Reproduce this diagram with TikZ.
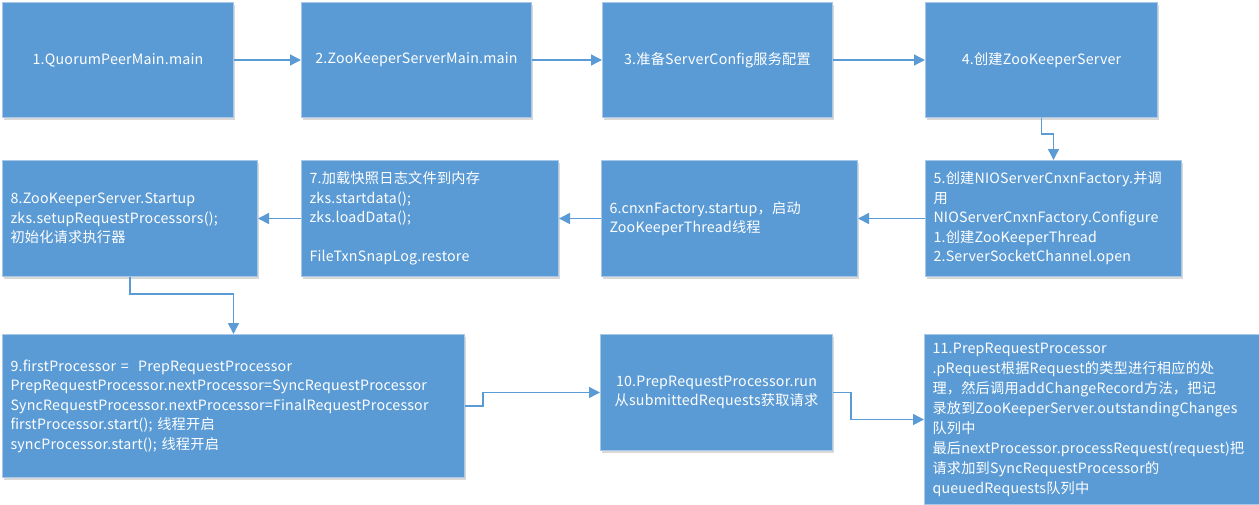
\documentclass[tikz,border=0pt]{standalone}
\usepackage{fontspec}
\setmainfont[LetterSpace=1.5]{Noto Sans CJK SC}
\usepackage{tikz}
\usetikzlibrary{positioning,arrows.meta,shadows}
\definecolor{boxblue}{HTML}{5B9BD5}
\definecolor{boxedge}{HTML}{A8C8E8}

\begin{document}
\begin{tikzpicture}[
    node distance=42pt and 67pt,
    stage/.style={draw=boxedge, line width=1pt, fill=boxblue, text=white, minimum height=116pt, inner sep=8pt, align=center, font=\fontsize{14.2pt}{19.5pt}\selectfont, drop shadow={shadow xshift=1pt, shadow yshift=-2pt, opacity=0.15, fill=black}},
    arr/.style={-{Triangle[length=11pt, width=11pt]}, line width=1.5pt, draw=boxblue},
    stub/.style={line width=1.5pt, draw=boxblue}
]
    \useasboundingbox (0,0) rectangle (1259pt,-504pt);

    % Row 1: startup
    \node[stage, minimum width=231pt, minimum height=115pt, anchor=north west] (qpm_main) at (2pt,-2pt) {1.QuorumPeerMain.main};
    \node[stage, minimum width=230pt, minimum height=115pt, right=67pt of qpm_main] (zksm_main) {2.ZooKeeperServerMain.main};
    \node[stage, minimum width=230pt, minimum height=115pt, right=70pt of zksm_main] (cfg) {3.准备ServerConfig服务配置};
    \node[stage, minimum width=232pt, minimum height=115pt, right=92pt of cfg] (zks_new) {4.创建ZooKeeperServer};

    % Row 2: factory and data (right to left)
    \node[stage, text width=240pt, align=left, below=42pt of zks_new.south west, anchor=north west] (cnxn_new) {5.创建NIOServerCnxnFactory.并调\\用\\NIOServerCnxnFactory.Configure\\1.创建ZooKeeperThread\\2.ServerSocketChannel.open};
    \node[stage, text width=240pt, align=left, left=67pt of cnxn_new] (cnxn_start) {6.cnxnFactory.startup，启动\\ZooKeeperThread线程};
    \node[stage, text width=241pt, align=left, left=42pt of cnxn_start] (load_data) {7.加载快照日志文件到内存\\zks.startdata();\\zks.loadData();\\[19.5pt]FileTxnSnapLog.restore};
    \node[stage, text width=239pt, align=left, left=43pt of load_data] (setup_proc) {8.ZooKeeperServer.Startup\\zks.setupRequestProcessors();\\初始化请求执行器};

    % Row 3: request processors
    \node[stage, text width=446pt, minimum height=143pt, align=left, below=57pt of setup_proc.south west, anchor=north west] (proc_chain) {9.firstProcessor =~~PrepRequestProcessor\\PrepRequestProcessor.nextProcessor=SyncRequestProcessor\\SyncRequestProcessor.nextProcessor=FinalRequestProcessor\\firstProcessor.start(); 线程开启\\syncProcessor.start(); 线程开启};
    \node[stage, minimum width=232pt, right=135pt of proc_chain.north east, anchor=north west] (prep_run) {10.PrepRequestProcessor.run\\从submittedRequests获取请求};
    \node[stage, text width=320pt, minimum height=170pt, inner ysep=4pt, align=left, font=\fontsize{14.2pt}{20pt}\selectfont, right=91pt of prep_run.north east, anchor=north west] (prep_req) {11.PrepRequestProcessor\\.pRequest根据Request的类型进行相应的处\\理，然后调用addChangeRecord方法，把记\\录放到ZooKeeperServer.outstandingChanges\\队列中\\最后nextProcessor.processRequest(request)把\\请求加到SyncRequestProcessor的\\queuedRequests队列中};
    \coordinate[below=8pt of prep_req.south] (prep_next);

    % Connections
    \draw[arr] (qpm_main) -- (zksm_main); \draw[arr] (zksm_main) -- (cfg); \draw[arr] (cfg) -- (zks_new);
    \draw[arr] (zks_new.south) -- ++(0,-16pt) -| (cnxn_new.north);
    \draw[arr] (cnxn_new) -- (cnxn_start); \draw[arr] (cnxn_start) -- (load_data); \draw[arr] (load_data) -- (setup_proc);
    \draw[arr] (setup_proc.south) -- ++(0,-17pt) -| (proc_chain.north);
    \draw[arr] (proc_chain.east) -- ++(18pt,0) |- (prep_run.west);
    \draw[arr] (prep_run.east) -- ++(18pt,0) |- (prep_req.west);
    \draw[stub] (prep_req.south) -- (prep_next);
\end{tikzpicture}
\end{document}
